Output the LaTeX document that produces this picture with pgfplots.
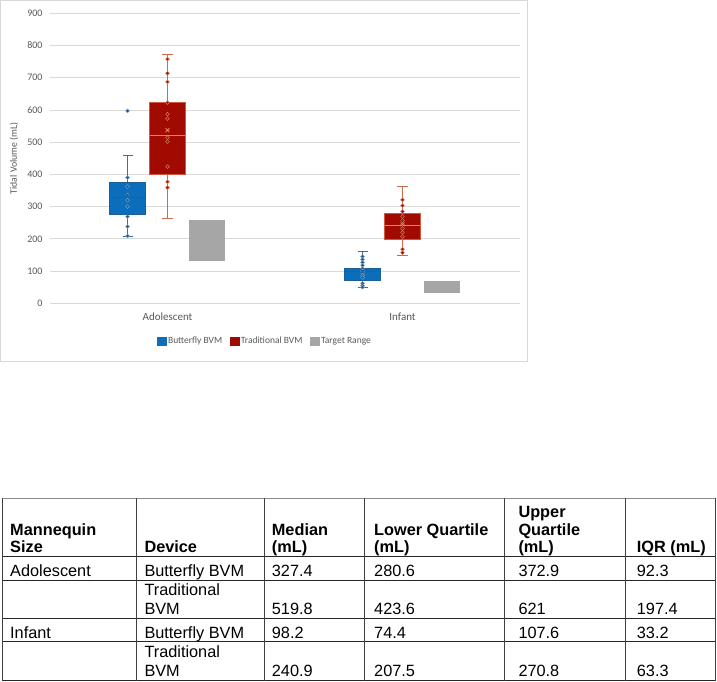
\documentclass[border=0pt]{standalone}
\usepackage{fontspec}
\setmainfont{Liberation Sans}
\newfontfamily\chartfont{Carlito}
\usepackage{pgfplots}
\pgfplotsset{compat=1.18}

\definecolor{framegray}{HTML}{D9D9D9}
\definecolor{gridgray}{HTML}{D9D9D9}
\definecolor{labelgray}{HTML}{595959}
\definecolor{bfill}{HTML}{0A6EBD}
\definecolor{bedge}{HTML}{1C5F93}
\definecolor{bwhisk}{HTML}{3C7099}
\definecolor{bmed}{HTML}{2D5F86}
\definecolor{bdot}{HTML}{1D4F78}
\definecolor{bring}{HTML}{6FA6D6}
\definecolor{rfill}{HTML}{A00A00}
\definecolor{redge}{HTML}{D0583C}
\definecolor{rwhisk}{HTML}{CF6A4C}
\definecolor{rmed}{HTML}{E0875A}
\definecolor{rdot}{HTML}{8E0F0F}
\definecolor{rring}{HTML}{DB7A55}
\definecolor{tgray}{HTML}{A6A6A6}
\definecolor{rulegray}{HTML}{8C8C8C}

\begin{document}
\begin{tikzpicture}
\begin{scope}[x=1bp,y=-1bp]
  \useasboundingbox (0,0) rectangle (717,681);
  \fill[white] (0,0) rectangle (717,681);
  \draw[framegray, line width=0.8bp] (0.5,0.5) rectangle (527.3,361.7);
\end{scope}

\begin{axis}[
  at={(50bp,-303.3bp)}, anchor=south west,
  width=470bp, height=290bp, scale only axis,
  xmin=-0.5, xmax=1.5, ymin=0, ymax=900,
  xtick={0,1}, xticklabels={Adolescent,Infant},
  ytick={0,100,...,900},
  axis line style={draw=none},
  tick style={draw=none},
  ymajorgrids, grid style={gridgray, line width=0.75bp},
  /pgf/number format/assume math mode=true,
  yticklabel style={font=\chartfont\fontsize{10bp}{12bp}\selectfont, text=labelgray, anchor=east, xshift=-4bp},
  xticklabel style={font=\chartfont\fontsize{11bp}{13bp}\selectfont, text=labelgray, anchor=base, yshift=-16.7bp},
  ylabel={Tidal Volume (mL)},
  ylabel style={font=\chartfont\fontsize{9.8bp}{12bp}\selectfont, text=labelgray, at={(axis description cs:-0.0766,0.5)}, anchor=center},
  legend columns=3,
  legend style={draw=none, fill=none, at={(0.457,-0.131)}, anchor=center,
    font=\chartfont\fontsize{9.5bp}{11bp}\selectfont, text=labelgray,
    /tikz/every even column/.append style={column sep=6bp},
    nodes={inner sep=1.6bp}},
  legend cell align=left,
]

% ---------- Butterfly BVM (Adolescent at -0.17, Infant at 0.83) ----------
% whiskers
\addplot[forget plot, bwhisk, line width=0.8bp] coordinates {(-0.17,374) (-0.17,460)};
\addplot[forget plot, bwhisk, line width=0.8bp] coordinates {(-0.17,275) (-0.17,209)};
\addplot[forget plot, bwhisk, line width=0.8bp] coordinates {(-0.1915,460) (-0.1485,460)};
\addplot[forget plot, bwhisk, line width=0.8bp] coordinates {(-0.1915,209) (-0.1485,209)};
\addplot[forget plot, bwhisk, line width=0.8bp] coordinates {(0.83,110) (0.83,161)};
\addplot[forget plot, bwhisk, line width=0.8bp] coordinates {(0.83,72) (0.83,50)};
\addplot[forget plot, bwhisk, line width=0.8bp] coordinates {(0.8085,161) (0.8515,161)};
\addplot[forget plot, bwhisk, line width=0.8bp] coordinates {(0.8085,50) (0.8515,50)};
% boxes (lower quartile to upper quartile)
\addplot[forget plot, fill=bfill, draw=bedge, line width=0.6bp]
  coordinates {(-0.2465,275) (-0.0935,275) (-0.0935,374) (-0.2465,374)} -- cycle;
\addplot[forget plot, fill=bfill, draw=bedge, line width=0.6bp]
  coordinates {(0.7535,72) (0.9065,72) (0.9065,110) (0.7535,110)} -- cycle;
% medians
\addplot[forget plot, bmed, line width=0.8bp] coordinates {(-0.2465,327.4) (-0.0935,327.4)};
\addplot[forget plot, bmed, line width=0.8bp] coordinates {(0.7535,98.2) (0.9065,98.2)};

% ---------- Traditional BVM (Adolescent at 0, Infant at 1) ----------
\addplot[forget plot, rwhisk, line width=0.8bp] coordinates {(0,625) (0,773)};
\addplot[forget plot, rwhisk, line width=0.8bp] coordinates {(0,400) (0,264)};
\addplot[forget plot, rwhisk, line width=0.8bp] coordinates {(-0.0215,773) (0.0215,773)};
\addplot[forget plot, rwhisk, line width=0.8bp] coordinates {(-0.0215,264) (0.0215,264)};
\addplot[forget plot, rwhisk, line width=0.8bp] coordinates {(1,278) (1,362)};
\addplot[forget plot, rwhisk, line width=0.8bp] coordinates {(1,200) (1,149)};
\addplot[forget plot, rwhisk, line width=0.8bp] coordinates {(0.9785,362) (1.0215,362)};
\addplot[forget plot, rwhisk, line width=0.8bp] coordinates {(0.9785,149) (1.0215,149)};
\addplot[forget plot, fill=rfill, draw=redge, line width=0.6bp]
  coordinates {(-0.0765,400) (0.0765,400) (0.0765,625) (-0.0765,625)} -- cycle;
\addplot[forget plot, fill=rfill, draw=redge, line width=0.6bp]
  coordinates {(0.9235,200) (1.0765,200) (1.0765,278) (0.9235,278)} -- cycle;
\addplot[forget plot, rmed, line width=0.8bp] coordinates {(-0.0765,519.8) (0.0765,519.8)};
\addplot[forget plot, rmed, line width=0.8bp] coordinates {(0.9235,240.9) (1.0765,240.9)};

% ---------- Target ranges ----------
\addplot[forget plot, fill=tgray, draw=none]
  coordinates {(0.0935,130) (0.2465,130) (0.2465,260) (0.0935,260)} -- cycle;
\addplot[forget plot, fill=tgray, draw=none]
  coordinates {(1.0935,32) (1.2465,32) (1.2465,68) (1.0935,68)} -- cycle;

% individual measurements, Butterfly BVM
\addplot[forget plot, only marks, mark=*, mark size=1.9bp,
  mark options={fill=bdot, draw=bring, line width=0.5bp}]
  table[row sep=\\] {
  x y\\
  -0.17 597\\ -0.17 390\\ -0.17 362\\ -0.17 336\\ -0.17 320\\
  -0.17 300\\ -0.17 269\\ -0.17 238\\ -0.17 209\\
  0.83 145\\ 0.83 136\\ 0.83 127\\ 0.83 118\\ 0.83 108\\ 0.83 100\\
  0.83 94\\ 0.83 87\\ 0.83 80\\ 0.83 62\\ 0.83 55\\ 0.83 50\\
};
% individual measurements, Traditional BVM
\addplot[forget plot, only marks, mark=*, mark size=1.9bp,
  mark options={fill=rdot, draw=rring, line width=0.5bp}]
  table[row sep=\\] {
  x y\\
  0 758\\ 0 714\\ 0 687\\ 0 623\\ 0 587\\ 0 573\\ 0 514\\ 0 502\\
  0 424\\ 0 377\\ 0 359\\
  1 321\\ 1 303\\ 1 285\\ 1 270\\ 1 257\\ 1 245\\ 1 232\\ 1 220\\
  1 207\\ 1 168\\ 1 157\\
};
% means
\addplot[forget plot, only marks, mark=x, mark size=2.7bp,
  mark options={draw=bmed, line width=0.8bp}]
  coordinates {(-0.17,332) (0.83,100)};
\addplot[forget plot, only marks, mark=x, mark size=2.7bp,
  mark options={draw=rmed, line width=0.8bp}]
  coordinates {(0,537) (1,245)};

\addlegendimage{legend image code/.code={\fill[bfill] (0bp,-3.6bp) rectangle (9bp,3.6bp);}}
\addlegendentry{Butterfly BVM}
\addlegendimage{legend image code/.code={\fill[rfill] (0bp,-3.6bp) rectangle (9bp,3.6bp);}}
\addlegendentry{Traditional BVM}
\addlegendimage{legend image code/.code={\fill[tgray] (0bp,-3.6bp) rectangle (9bp,3.6bp);}}
\addlegendentry{Target Range}
\end{axis}

% summary table
\begin{scope}[x=1bp,y=-1bp,
  every node/.style={inner sep=0pt, anchor=base west, font=\fontsize{16.3bp}{18bp}\selectfont}]
  \draw[rulegray, line width=0.9bp] (2,498.3) -- (715,498.3);
  \draw[black!85, line width=0.9bp]
    (2,556.7) -- (715,556.7)
    (2,580) -- (715,580)
    (2,618.3) -- (715,618.3)
    (2,641.7) -- (715,641.7)
    (2,680.7) -- (715,680.7);
  \draw[black!75, line width=0.9bp]
    (2,498.3) -- (2,680.7)
    (136,498.3) -- (136,680.7)
    (264.3,498.3) -- (264.3,680.7)
    (364.3,498.3) -- (364.3,680.7)
    (504,498.3) -- (504,680.7)
    (625,498.3) -- (625,680.7)
    (715,498.3) -- (715,680.7);
  % header
  \node[font=\bfseries\fontsize{16.3bp}{18bp}\selectfont] at (10,535) {Mannequin};
  \node[font=\bfseries\fontsize{16.3bp}{18bp}\selectfont] at (10,552.7) {Size};
  \node[font=\bfseries\fontsize{16.3bp}{18bp}\selectfont] at (144.3,552.7) {Device};
  \node[font=\bfseries\fontsize{16.3bp}{18bp}\selectfont] at (271.7,535) {Median};
  \node[font=\bfseries\fontsize{16.3bp}{18bp}\selectfont] at (271.7,552.7) {(mL)};
  \node[font=\bfseries\fontsize{16.3bp}{18bp}\selectfont] at (374,535) {Lower Quartile};
  \node[font=\bfseries\fontsize{16.3bp}{18bp}\selectfont] at (374,552.7) {(mL)};
  \node[font=\bfseries\fontsize{16.3bp}{18bp}\selectfont] at (518.3,517.3) {Upper};
  \node[font=\bfseries\fontsize{16.3bp}{18bp}\selectfont] at (518.3,535) {Quartile};
  \node[font=\bfseries\fontsize{16.3bp}{18bp}\selectfont] at (518.3,552.7) {(mL)};
  \node[font=\bfseries\fontsize{16.3bp}{18bp}\selectfont] at (636.7,552.7) {IQR (mL)};
  % rows
  \node at (10,576) {Adolescent};
  \node at (144.3,576) {Butterfly BVM};
  \node at (271.7,576) {327.4};
  \node at (374,576) {280.6};
  \node at (518.3,576) {372.9};
  \node at (636.7,576) {92.3};
  \node at (144.3,595.5) {Traditional};
  \node at (144.3,614) {BVM};
  \node at (271.7,614) {519.8};
  \node at (374,614) {423.6};
  \node at (518.3,614) {621};
  \node at (636.7,614) {197.4};
  \node at (10,638.3) {Infant};
  \node at (144.3,638.3) {Butterfly BVM};
  \node at (271.7,638.3) {98.2};
  \node at (374,638.3) {74.4};
  \node at (518.3,638.3) {107.6};
  \node at (636.7,638.3) {33.2};
  \node at (144.3,657) {Traditional};
  \node at (144.3,676.5) {BVM};
  \node at (271.7,676.5) {240.9};
  \node at (374,676.5) {207.5};
  \node at (518.3,676.5) {270.8};
  \node at (636.7,676.5) {63.3};
\end{scope}
\end{tikzpicture}
\end{document}
